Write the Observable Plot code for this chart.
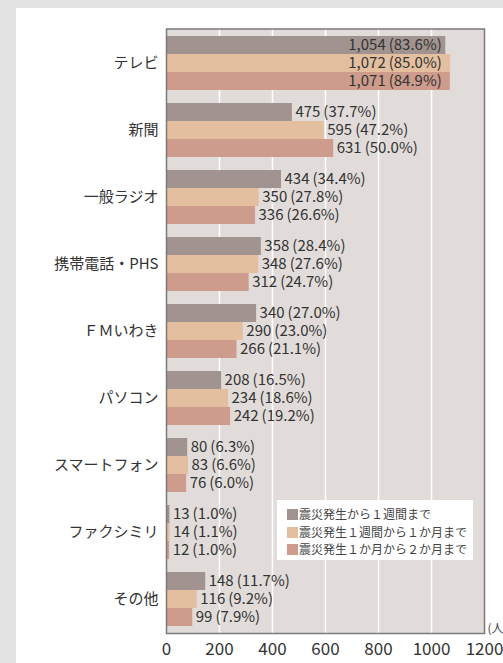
<!DOCTYPE html>
<html><head><meta charset="utf-8">
<script src="https://cdn.jsdelivr.net/npm/d3@7"></script>
<script src="https://cdn.jsdelivr.net/npm/@observablehq/plot@0.6"></script>
<style>
html,body{margin:0;padding:0;background:#e3e3e3;width:503px;height:663px;overflow:hidden;font-family:"Noto Sans CJK JP","Noto Sans",sans-serif;}
#panel{position:absolute;left:16px;top:8px;width:520px;height:655px;background:#fff;}
#legend{position:absolute;left:261px;top:492px;width:196px;height:60px;background:#fff;box-sizing:border-box;padding:5px 0 0 10px;font-size:12px;color:#444;line-height:17.5px;white-space:nowrap;}
#legend .sw{display:inline-block;width:11px;height:11px;vertical-align:-1px;margin-right:1px;}
</style></head>
<body>
<div id="panel"><div id="chart"></div><div id="legend"></div></div>
<script>
const categories = ["テレビ","新聞","一般ラジオ","携帯電話・PHS","ＦＭいわき","パソコン","スマートフォン","ファクシミリ","その他"];
const seriesNames = ["震災発生から１週間まで","震災発生１週間から１か月まで","震災発生１か月から２か月まで"];
const counts1 = [1054,475,434,358,340,208,80,13,148];
const pcts1 = [83.6,37.7,34.4,28.4,27.0,16.5,6.3,1.0,11.7];
const counts2 = [1072,595,350,348,290,234,83,14,116];
const pcts2 = [85.0,47.2,27.8,27.6,23.0,18.6,6.6,1.1,9.2];
const counts3 = [1071,631,336,312,266,242,76,12,99];
const pcts3 = [84.9,50.0,26.6,24.7,21.1,19.2,6.0,1.0,7.9];
const xTicks = [0,200,400,600,800,1000,1200];
const colors = ["#a19490","#e3bf9f","#cd9c8c"];

const W = 520, H = 655, mT = 20.5, mB = 30, mL = 150, mR = 52;
const pIn = 0.194, pOut = 0.108;
const step = (H - mT - mB) / (categories.length - pIn + 2 * pOut);
const bw = step * (1 - pIn);
const sub = bw / 3;

const allCounts = [counts1, counts2, counts3];
const allPcts = [pcts1, pcts2, pcts3];
const fmt = d3.format(",");
const groupMin = categories.map((c, i) => Math.min(...allCounts.map(s => s[i])));

const marks = [
  Plot.frame({fill: "#e1dcd9"}),
  Plot.gridX(xTicks.slice(1, -1), {stroke: "#fff", strokeOpacity: 1, strokeWidth: 1.5})
];
allCounts.forEach((counts, k) => {
  const data = categories.map((c, i) => ({c, v: counts[i], gmin: groupMin[i], label: `${fmt(counts[i])}\u2009(${allPcts[k][i].toFixed(1)}%)`}));
  marks.push(Plot.barX(data, {y: "c", x: "v", fill: colors[k], insetTop: k * sub, insetBottom: (2 - k) * sub}));
  const dy = (k - 1) * sub;
  marks.push(Plot.text(data.filter(d => d.v < 1000), {y: "c", x: "v", text: "label", textAnchor: "start", dx: 3, dy, fill: "#333", fontSize: 15}));
  marks.push(Plot.text(data.filter(d => d.v >= 1000), {y: "c", x: "gmin", text: "label", textAnchor: "end", dx: -4, dy, fill: "#333", fontSize: 15}));
});
marks.push(
  Plot.frame({stroke: "#7a7a7a", strokeWidth: 1.5}),
  Plot.axisY({tickSize: 0, tickPadding: 8, fontSize: 15, fill: "#333", label: null}),
  Plot.axisX({ticks: xTicks, tickSize: 0, tickPadding: 9, fontSize: 17, fill: "#333", label: null, tickFormat: d => String(d)}),
  Plot.text(["(人)"], {frameAnchor: "bottom-right", textAnchor: "start", lineAnchor: "bottom", dx: 3, dy: -1, fontSize: 12, fill: "#444"})
);

const chart = Plot.plot({
  width: W, height: H, marginTop: mT, marginBottom: mB, marginLeft: mL, marginRight: mR,
  style: {fontFamily: '"Noto Sans CJK JP","Noto Sans",sans-serif', background: "transparent", color: "#333", overflow: "visible"},
  x: {domain: [0, 1200]},
  y: {domain: categories, paddingInner: pIn, paddingOuter: pOut},
  marks
});
document.getElementById("chart").appendChild(chart);

const leg = document.getElementById("legend");
seriesNames.forEach((n, k) => {
  const row = document.createElement("div");
  row.innerHTML = `<span class="sw" style="background:${colors[k]}"></span>${n}`;
  leg.appendChild(row);
});
</script>
</body></html>
